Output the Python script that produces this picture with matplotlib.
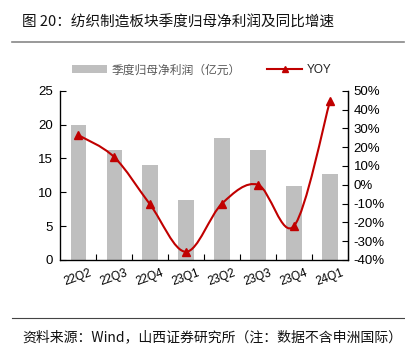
import matplotlib
matplotlib.use("Agg")
import matplotlib.pyplot as plt
from matplotlib.path import Path
from matplotlib.patches import PathPatch, Patch
from matplotlib.lines import Line2D
from matplotlib.ticker import FuncFormatter, MultipleLocator
import numpy as np

plt.rcParams['font.family'] = ['Noto Sans CJK SC', 'DejaVu Sans']

categories = ["22Q2", "22Q3", "22Q4", "23Q1", "23Q2", "23Q3", "23Q4", "24Q1"]
profit = [20.0, 16.2, 14.0, 8.8, 18.0, 16.2, 10.9, 12.7]
yoy = [26.5, 14.8, -10.5, -35.7, -10.0, 0.0, -22.0, 44.5]

title = "图 20：纺织制造板块季度归母净利润及同比增速"
source = "资料来源：Wind，山西证券研究所（注：数据不含申洲国际）"
bar_label = "季度归母净利润（亿元）"
line_label = "YOY"

bar_color = "#BFBFBF"
red = "#C00000"
num_font = 'Liberation Sans'

fig = plt.figure(figsize=(4.06, 3.55), dpi=100)
ax = fig.add_axes([0.148, 0.268, 0.709, 0.476])
x = np.arange(len(categories))
ax.bar(x, profit, width=0.42, color=bar_color, zorder=1)
ax.set_xlim(-0.5, len(categories) - 0.5)
ax.set_ylim(0, 25)
ax.yaxis.set_major_locator(MultipleLocator(5))
ax.set_xticks(x)
ax.set_xticklabels(categories, rotation=20, fontsize=8.5, family=num_font)
ax.set_xticks(np.arange(0.5, len(categories) - 0.5, 1), minor=True)
ax.tick_params(axis='x', which='major', length=0, pad=5)
ax.tick_params(axis='x', which='minor', length=4, direction='in', width=0.8)
ax.tick_params(axis='y', direction='in', length=4, labelsize=9.5, width=0.8, pad=5)
for lab in ax.get_yticklabels():
    lab.set_family(num_font)
ax.spines['top'].set_visible(False)
for s in ['left', 'bottom', 'right']:
    ax.spines[s].set_linewidth(0.9)

ax2 = ax.twinx()
ax2.set_ylim(-40, 50)
ax2.yaxis.set_major_locator(MultipleLocator(10))
ax2.yaxis.set_major_formatter(FuncFormatter(lambda v, p: f"{int(round(v))}%"))
ax2.tick_params(axis='y', direction='in', length=4, labelsize=9.5, width=0.8, pad=4)
for lab in ax2.get_yticklabels():
    lab.set_family(num_font)
ax2.spines['top'].set_visible(False)
ax2.spines['right'].set_linewidth(0.9)

# smooth curve through the points (Catmull-Rom to Bezier) in data coordinates
px = np.array(x, dtype=float)
py = np.array(yoy, dtype=float)
verts = [(px[0], py[0])]
codes = [Path.MOVETO]
n = len(px)
t = 0.5
for i in range(n - 1):
    p0 = (px[i - 1], py[i - 1]) if i > 0 else (px[i], py[i])
    p1 = (px[i], py[i])
    p2 = (px[i + 1], py[i + 1])
    p3 = (px[i + 2], py[i + 2]) if i + 2 < n else (px[i + 1], py[i + 1])
    c1 = (p1[0] + (p2[0] - p0[0]) * t / 3, p1[1] + (p2[1] - p0[1]) * t / 3)
    c2 = (p2[0] - (p3[0] - p1[0]) * t / 3, p2[1] - (p3[1] - p1[1]) * t / 3)
    verts += [c1, c2, p2]
    codes += [Path.CURVE4] * 3
ax2.add_patch(PathPatch(Path(verts, codes), facecolor='none', edgecolor=red, lw=1.5, zorder=3))
ax2.plot(px, py, linestyle='none', marker='^', color=red, markersize=6, zorder=4)

# legend
handles = [Patch(facecolor=bar_color, edgecolor='none'),
           Line2D([0], [0], color=red, lw=1.5, marker='^', markersize=5)]
leg = fig.legend(handles, [bar_label, line_label], loc='center', bbox_to_anchor=(0.497, 0.803),
                 ncol=2, frameon=False, fontsize=8.5, handlelength=3.0, columnspacing=2.2,
                 handletextpad=0.4, labelcolor=['#595959', '#222222'])
leg.get_texts()[1].set_family(num_font)

# title and rules
fig.text(0.054, 0.937, title, fontsize=10.5, va='center', ha='left', color='#111111')
fig.add_artist(Line2D([0.03, 0.995], [0.882, 0.882], color='#888888', lw=1.2))
fig.add_artist(Line2D([0.03, 0.995], [0.104, 0.104], color='#444444', lw=0.8))
fig.text(0.054, 0.05, source, fontsize=10, va='center', ha='left', color='#111111')

fig.savefig("out.png", dpi=100)
